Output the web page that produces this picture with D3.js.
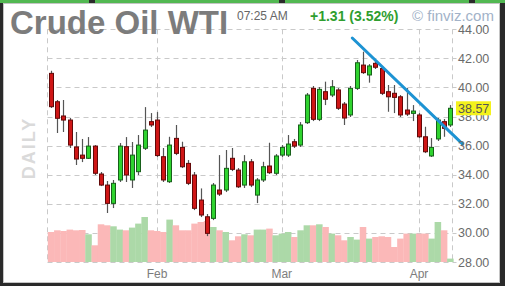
<!DOCTYPE html>
<html lang="en">
<head>
<meta charset="UTF-8">
<title>Crude Oil WTI</title>
<script src="https://cdn.jsdelivr.net/npm/d3@7"></script>
<style>
    html, body { margin: 0; padding: 0; background: #2a2a2a; }
    svg { display: block; font-family: "Liberation Sans", Arial, sans-serif; }
</style>
</head>
<body>
<script>
// trading days shown (2016)
const janDays = [6, 7, 8, 11, 12, 13, 14, 15, 19, 20, 21, 22, 25, 26, 27, 28, 29]
const febDays = [1, 2, 3, 4, 5, 8, 9, 10, 11, 12, 16, 17, 18, 19, 22, 23, 24, 25, 26, 29]
const marDays = [1, 2, 3, 4, 7, 8, 9, 10, 11, 14, 15, 16, 17, 18, 21, 22, 23, 24, 28, 29, 30, 31]
const aprDays = [1, 4, 5, 6, 7, 8]

const open = [40.97, 39.02, 38.04, 37.76, 35.91, 35.35, 35.13, 35.97, 34.05, 33.29, 32.03, 33.64, 35.93, 33.64, 34.21, 35.82, 37.65,
    37.76, 35.24, 33.52, 36.50, 35.88, 34.78, 33.98, 32.26, 31.11, 31.00, 32.95, 32.95, 35.13, 34.32, 33.29, 34.89, 32.60, 33.64, 34.60, 34.10,
    35.35, 35.35, 36.27, 36.04, 37.58, 39.94, 37.81, 39.71, 39.48, 39.83, 38.86, 38.11, 39.94, 41.54, 40.86, 41.66, 41.30, 39.71, 39.60, 39.36, 38.45, 38.22,
    38.11, 36.61, 35.29, 36.46, 37.65, 37.42]
const high = [41.15, 39.14, 39.14, 37.90, 36.94, 36.46, 36.59, 36.04, 34.19, 33.57, 33.64, 36.18, 36.59, 36.25, 36.73, 38.65, 38.24,
    38.31, 35.84, 36.61, 37.42, 36.27, 35.01, 34.19, 33.06, 31.30, 33.43, 35.35, 35.70, 35.84, 34.46, 35.35, 35.08, 33.77, 34.89, 36.20, 35.42,
    36.04, 36.73, 36.46, 37.62, 39.62, 40.10, 40.03, 40.40, 40.51, 39.96, 39.00, 40.10, 41.89, 42.46, 41.61, 41.89, 41.48, 40.17, 40.17, 39.48, 39.96, 38.79,
    38.24, 37.30, 36.52, 37.90, 37.83, 38.79]
const low = [38.59, 36.87, 36.94, 35.84, 34.67, 34.87, 35.08, 33.98, 33.22, 31.37, 31.71, 33.50, 33.50, 33.09, 33.98, 35.70, 37.28,
    35.22, 33.50, 33.43, 35.35, 34.46, 33.29, 31.57, 31.09, 29.78, 30.88, 32.54, 32.81, 34.25, 33.09, 33.09, 33.15, 32.05, 33.50, 34.05, 33.98,
    35.22, 35.22, 35.84, 35.91, 37.49, 37.69, 37.69, 38.79, 39.34, 38.45, 37.42, 37.97, 39.83, 40.93, 40.33, 41.27, 39.48, 38.33, 38.24, 37.97, 38.04, 37.69,
    36.52, 35.49, 35.22, 36.32, 36.61, 37.28]
const close = [38.68, 37.88, 37.76, 36.04, 35.08, 35.13, 35.97, 34.10, 33.29, 32.03, 33.41, 35.97, 33.98, 35.35, 36.04, 37.07, 37.42,
    35.32, 33.64, 36.04, 35.47, 34.55, 33.41, 31.69, 31.23, 29.97, 33.29, 32.67, 34.44, 34.37, 33.17, 34.89, 33.29, 33.64, 34.55, 34.14, 35.29,
    35.88, 36.11, 35.97, 37.42, 39.48, 37.81, 39.87, 39.19, 40.05, 38.57, 37.90, 39.94, 41.70, 41.02, 41.48, 41.39, 39.60, 39.36, 39.32, 38.11, 38.17, 38.38,
    36.61, 35.58, 35.88, 37.76, 37.19, 38.57]
// volume, thousands of contracts (estimated)
const volume = [300, 317, 310, 324, 317, 320, 277, 167, 377, 367, 357, 324, 317, 344, 384, 450, 317,
    310, 300, 424, 367, 317, 317, 384, 400, 410, 350, 317, 300, 217, 257, 277, 267, 324, 324, 334, 267,
    284, 300, 250, 317, 367, 367, 377, 350, 284, 267, 217, 250, 224, 350, 234, 250, 257, 250, 150, 234, 284, 284,
    284, 284, 234, 400, 317, 34]

const priceTicks = [28, 30, 32, 34, 36, 38, 40, 42, 44]
const lastPrice = 38.57
// hand drawn trend line, [index, price]
const trendIdx = [48.3, 66.0]
const trendPrice = [43.4, 36.1]

const W = 505, H = 286

const dates = [
    ...janDays.map(d => new Date(2016, 0, d)),
    ...febDays.map(d => new Date(2016, 1, d)),
    ...marDays.map(d => new Date(2016, 2, d)),
    ...aprDays.map(d => new Date(2016, 3, d))
]
const candles = dates.map((d, i) => ({
    date: d, i,
    o: open[i], h: high[i], l: low[i], c: close[i], v: volume[i],
    up: close[i] >= open[i]
}))

const svg = d3.select('body').append('svg')
    .attr('width', W)
    .attr('height', H)

// frame of the screenshot
svg.append('rect').attr('width', W).attr('height', H).attr('fill', '#2a2a2a')
const topStrips = [[0, 89], [95, 279], [285, 469], [475, 505]]
svg.selectAll('.strip').data(topStrips).join('rect')
    .attr('x', d => d[0]).attr('y', 0)
    .attr('width', d => d[1] - d[0]).attr('height', 3)
    .attr('fill', '#52b852')
svg.append('rect')
    .attr('x', 3.5).attr('y', 3.5).attr('width', 496).attr('height', 279)
    .attr('fill', '#fff').attr('stroke', '#c4c4c4')

const x = d3.scaleLinear().domain([0, candles.length - 1]).range([50.95, 450.2])
const y = d3.scaleLinear().domain([28, 44]).range([262, 29.3])
const yv = d3.scaleLinear().domain([0, 450]).range([262, 217])
const step = x(1) - x(0)
const left = Math.round(x(-0.5)) - 0.5
const right = Math.round(x(candles.length - 0.5)) - 0.5
const px = v => Math.round(v) + 0.5

// month starts
const monthStarts = candles.filter((d, i) => i > 0 && d.date.getMonth() != candles[i - 1].date.getMonth())

// grid
const grid = svg.append('g').attr('stroke', '#c9c9c9').attr('stroke-dasharray', '5,4')
grid.selectAll('.h').data(priceTicks).join('line')
    .attr('x1', left).attr('x2', right + 4)
    .attr('y1', d => px(y(d))).attr('y2', d => px(y(d)))
grid.selectAll('.v').data([left, ...monthStarts.map(d => px(x(d.i))), right]).join('line')
    .attr('x1', d => d).attr('x2', d => d)
    .attr('y1', y(44)).attr('y2', y(28))

// DAILY watermark
svg.append('text')
    .attr('transform', 'translate(35,148) rotate(-90)')
    .attr('text-anchor', 'middle')
    .attr('font-size', 18).attr('font-weight', 'bold')
    .attr('letter-spacing', 2)
    .attr('fill', '#dadada')
    .text('DAILY')

// volume
svg.append('g').selectAll('rect').data(candles).join('rect')
    .attr('x', d => x(d.i) - step / 2)
    .attr('width', step + 0.3)
    .attr('y', d => yv(d.v))
    .attr('height', d => yv(0) - yv(d.v))
    .attr('fill', d => d.up ? '#acd9a8' : '#fbb8b8')

// candles
const cg = svg.append('g').selectAll('g').data(candles).join('g')
cg.append('line')
    .attr('x1', d => px(x(d.i))).attr('x2', d => px(x(d.i)))
    .attr('y1', d => y(d.h)).attr('y2', d => y(d.l))
    .attr('stroke', '#555').attr('stroke-width', 1.2)
cg.append('rect')
    .attr('x', d => Math.round(x(d.i)) - 2 + 0.5)
    .attr('width', 4)
    .attr('y', d => y(Math.max(d.o, d.c)))
    .attr('height', d => Math.max(1, y(Math.min(d.o, d.c)) - y(Math.max(d.o, d.c))))
    .attr('fill', d => d.up ? '#2fd32f' : '#cf1616')
    .attr('stroke', d => d.up ? '#17601a' : '#620808')
    .attr('stroke-width', 1)

// trend line
svg.append('line')
    .attr('x1', x(trendIdx[0])).attr('y1', y(trendPrice[0]))
    .attr('x2', x(trendIdx[1])).attr('y2', y(trendPrice[1]))
    .attr('stroke', '#1d93d3').attr('stroke-width', 3).attr('stroke-linecap', 'round')

// price axis
svg.append('g').selectAll('text').data(priceTicks).join('text')
    .attr('x', 458).attr('y', d => y(d))
    .attr('dy', '0.36em')
    .attr('font-size', 12.5).attr('fill', '#6a6a6a')
    .text(d => d.toFixed(2))

// last price tag
svg.append('rect')
    .attr('x', 456).attr('y', y(lastPrice) - 7)
    .attr('width', 35).attr('height', 14)
    .attr('fill', '#f4f21c')
svg.append('text')
    .attr('x', 458).attr('y', y(lastPrice))
    .attr('dy', '0.36em')
    .attr('font-size', 12.5).attr('fill', '#555')
    .text(lastPrice.toFixed(2))

// month labels
const fmt = d3.timeFormat('%b')
svg.append('g').selectAll('text').data(monthStarts).join('text')
    .attr('x', d => x(d.i)).attr('y', 278)
    .attr('text-anchor', 'middle')
    .attr('font-size', 12).attr('fill', '#7d7d7d')
    .text(d => fmt(d.date))

// header
svg.append('text')
    .attr('x', 10).attr('y', 34)
    .attr('font-size', 33).attr('font-weight', 'bold')
    .attr('fill', '#7c7c7c')
    .text('Crude Oil WTI')
svg.append('text')
    .attr('x', 237).attr('y', 20)
    .attr('font-size', 12).attr('fill', '#666')
    .text('07:25 AM')
svg.append('text')
    .attr('x', 310).attr('y', 21)
    .attr('font-size', 14).attr('font-weight', 'bold')
    .attr('fill', '#2f9e2f')
    .text('+1.31 (3.52%)')
svg.append('text')
    .attr('x', 412).attr('y', 21)
    .attr('font-size', 15).attr('fill', '#a2b2c8')
    .text('© finviz.com')
</script>
</body>
</html>
